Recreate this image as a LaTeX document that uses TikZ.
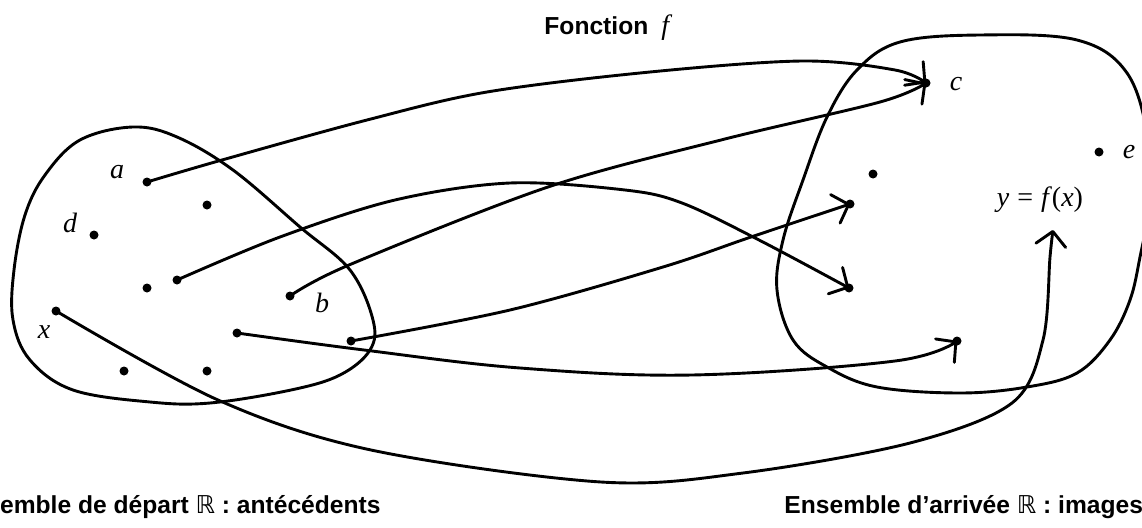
\documentclass[tikz,border=0pt]{standalone}
\usepackage{fontspec}
\setmainfont{Liberation Sans}
\newfontfamily\serifit{Liberation Serif}
\newfontfamily\dejavu{DejaVu Sans}
\usetikzlibrary{arrows.meta}
\begin{document}
\begin{tikzpicture}[x=1pt,y=-1pt,line width=2.9pt,line join=round,line cap=round,
  dot/.style={circle,fill=black,draw=none,inner sep=0pt,minimum size=9pt},
  lab/.style={inner sep=0pt,font=\fontsize{28}{32}\selectfont\serifit\itshape},
  ttl/.style={inner sep=0pt,font=\fontsize{24.6}{28}\selectfont\bfseries},
  arr/.style={-{Straight Barb[length=14pt,width=30pt,line width=2.9pt,round]}},
  blob/.style={line width=2.9pt}]
\useasboundingbox (0,0) rectangle (1142,527);
% sets
\draw[blob] plot[smooth cycle,tension=0.6] coordinates {(133,127) (177,137) (233,170) (300,227) (350,270) (373,320) (370,350) (340,375) (291,390) (210,403) (150,402) (73,390) (30,360) (13,320) (14,270) (25,215) (45,175) (80,140)};
\draw[blob] plot[smooth cycle,tension=0.6] coordinates {(980,35) (1077,40) (1127,73) (1148,140) (1148,210) (1140,257) (1130,300) (1110,340) (1077,373) (1027,387) (960,393) (877,387) (827,367) (793,340) (777,290) (783,240) (803,180) (827,117) (857,70) (900,42)};
% left points
\node[dot] (a) at (147,182) {};
\node[dot] (p1) at (207,205) {};
\node[dot] (d) at (94,235) {};
\node[dot] (p2) at (147,288) {};
\node[dot] (p3) at (177,280) {};
\node[dot] (b) at (290,296) {};
\node[dot] (x) at (56,311) {};
\node[dot] (p4) at (237,333) {};
\node[dot] (p5) at (351,341) {};
\node[dot] (p6) at (124,371) {};
\node[dot] (p7) at (207,371) {};
% right points
\node[dot] (c) at (926,83) {};
\node[dot] (q1) at (873,174) {};
\node[dot] (q2) at (850,204) {};
\node[dot] (q3) at (849,288) {};
\node[dot] (q4) at (957,341) {};
\node[dot] (e) at (1099,152) {};
\coordinate (ytip) at (1053,230);
% labels
\node[lab,anchor=base] (la) at (117,178) {a};
\node[lab,anchor=base] (ld) at (70,232) {d};
\node[lab,anchor=base] (lb) at (322,312) {b};
\node[lab,anchor=base] (lx) at (44,338) {x};
\node[lab,anchor=base] (lc) at (956,90) {c};
\node[lab,anchor=base] (le) at (1129,158) {e};
\node[lab,anchor=base] (lyfx) at (1040,206) {y\hspace{8pt}{\upshape =}\hspace{8pt}f\hspace{3pt}{\upshape(}x{\upshape)}};
\node[ttl,anchor=base west] (title) at (543,35) {Fonction\hspace{13pt}{\mdseries\serifit\itshape\fontsize{28}{32}\selectfont f}};
\node[ttl,anchor=base east] (left) at (382,513) {Ensemble de départ {\mdseries\dejavu ℝ} : antécédents};
\node[ttl,anchor=base west] (right) at (783,513) {Ensemble d’arrivée {\mdseries\dejavu ℝ} : images};
% arrows
\draw[arr] plot[smooth,tension=0.55] coordinates {(a.center) (222,160) (367,120) (487,92) (650,72) (803,61) (895,70) (926,83)};
\draw[arr] plot[smooth,tension=0.55] coordinates {(b.center) (349,265) (548,187) (721,140) (880,102) (926,83)};
\draw[arr] plot[smooth,tension=0.55] coordinates {(p3.center) (280,237) (395,200) (510,183) (625,190) (682,203) (759,240) (849,288)};
\draw[arr] plot[smooth,tension=0.55] coordinates {(p5.center) (510,310) (663,267) (751,237) (850,204)};
\draw[arr] plot[smooth,tension=0.6] coordinates {(p4.center) (364,350) (520,368) (692,375) (895,361) (957,341)};
\draw[arr] plot[smooth,tension=0.55] coordinates {(x.center) (218,400) (371,450) (601,482) (743,473) (910,443) (1012,403) (1043,340) (1050,257) (ytip)};
\end{tikzpicture}
\end{document}
